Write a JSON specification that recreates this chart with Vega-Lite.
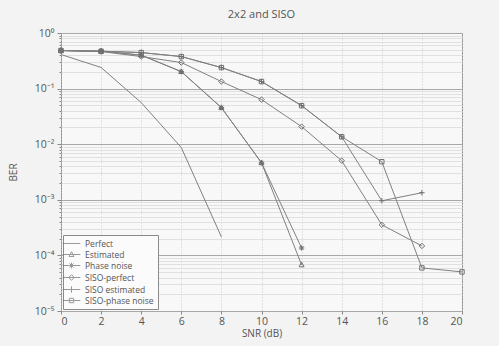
{
  "$schema": "https://vega.github.io/schema/vega-lite/v6.json",
  "autosize": "none",
  "width": 401,
  "height": 278,
  "padding": {"left": 61, "top": 33, "right": 37, "bottom": 35},
  "background": "#f3f3f3",
  "title": {"text": "2x2 and SISO", "fontSize": 11, "font": "Open Sans", "fontWeight": "normal", "color": "#555555", "offset": 8},
  "config": {
    "view": {"fill": "#f8f8f8", "stroke": "#8a8a8a", "strokeWidth": 1},
    "axis": {"labelFont": "Open Sans", "titleFont": "Open Sans", "labelColor": "#555555", "titleColor": "#555555", "titleFontWeight": "normal", "labelFontSize": 10.5, "titleFontSize": 10, "domain": false, "tickColor": "#888888"}
  },
  "data": {"values": [
    {"series": "Perfect", "snr": 0, "ber": 0.41},
    {"series": "Perfect", "snr": 2, "ber": 0.24},
    {"series": "Perfect", "snr": 4, "ber": 0.056},
    {"series": "Perfect", "snr": 6, "ber": 0.0087},
    {"series": "Perfect", "snr": 8, "ber": 0.000215},
    {"series": "Estimated", "snr": 0, "ber": 0.484},
    {"series": "Estimated", "snr": 2, "ber": 0.47},
    {"series": "Estimated", "snr": 4, "ber": 0.40},
    {"series": "Estimated", "snr": 6, "ber": 0.202},
    {"series": "Estimated", "snr": 8, "ber": 0.0455},
    {"series": "Estimated", "snr": 10, "ber": 0.00464},
    {"series": "Estimated", "snr": 12, "ber": 0.0000675},
    {"series": "Phase noise", "snr": 0, "ber": 0.484},
    {"series": "Phase noise", "snr": 2, "ber": 0.47},
    {"series": "Phase noise", "snr": 4, "ber": 0.40},
    {"series": "Phase noise", "snr": 6, "ber": 0.202},
    {"series": "Phase noise", "snr": 8, "ber": 0.0455},
    {"series": "Phase noise", "snr": 10, "ber": 0.00464},
    {"series": "Phase noise", "snr": 12, "ber": 0.000136},
    {"series": "SISO-perfect", "snr": 0, "ber": 0.484},
    {"series": "SISO-perfect", "snr": 2, "ber": 0.464},
    {"series": "SISO-perfect", "snr": 4, "ber": 0.377},
    {"series": "SISO-perfect", "snr": 6, "ber": 0.294},
    {"series": "SISO-perfect", "snr": 8, "ber": 0.134},
    {"series": "SISO-perfect", "snr": 10, "ber": 0.0634},
    {"series": "SISO-perfect", "snr": 12, "ber": 0.0207},
    {"series": "SISO-perfect", "snr": 14, "ber": 0.00505},
    {"series": "SISO-perfect", "snr": 16, "ber": 0.000355},
    {"series": "SISO-perfect", "snr": 18, "ber": 0.000148},
    {"series": "SISO estimated", "snr": 0, "ber": 0.484},
    {"series": "SISO estimated", "snr": 2, "ber": 0.47},
    {"series": "SISO estimated", "snr": 4, "ber": 0.445},
    {"series": "SISO estimated", "snr": 6, "ber": 0.377},
    {"series": "SISO estimated", "snr": 8, "ber": 0.239},
    {"series": "SISO estimated", "snr": 10, "ber": 0.134},
    {"series": "SISO estimated", "snr": 12, "ber": 0.0494},
    {"series": "SISO estimated", "snr": 14, "ber": 0.0136},
    {"series": "SISO estimated", "snr": 16, "ber": 0.00096},
    {"series": "SISO estimated", "snr": 18, "ber": 0.00134},
    {"series": "SISO-phase noise", "snr": 0, "ber": 0.484},
    {"series": "SISO-phase noise", "snr": 2, "ber": 0.47},
    {"series": "SISO-phase noise", "snr": 4, "ber": 0.445},
    {"series": "SISO-phase noise", "snr": 6, "ber": 0.377},
    {"series": "SISO-phase noise", "snr": 8, "ber": 0.239},
    {"series": "SISO-phase noise", "snr": 10, "ber": 0.134},
    {"series": "SISO-phase noise", "snr": 12, "ber": 0.0494},
    {"series": "SISO-phase noise", "snr": 14, "ber": 0.0136},
    {"series": "SISO-phase noise", "snr": 16, "ber": 0.00484},
    {"series": "SISO-phase noise", "snr": 18, "ber": 0.0000596},
    {"series": "SISO-phase noise", "snr": 20, "ber": 0.0000505}
  ]},
  "encoding": {
    "x": {"field": "snr", "type": "quantitative", "scale": {"domain": [0, 20], "nice": false},
      "axis": {"title": "SNR (dB)", "values": [0,2,4,6,8,10,12,14,16,18,20], "grid": true, "gridColor": "#c8c8c8", "gridDash": [1, 2], "tickSize": 3, "labelPadding": 2, "titlePadding": 2}},
    "y": {"field": "ber", "type": "quantitative", "scale": {"type": "log", "domain": [0.00001, 1], "nice": false},
      "axis": {"title": "BER", "titlePadding": 16,
        "values": [0.00001,0.00002,0.00003,0.00004,0.00005,0.00006,0.00007,0.00008,0.00009,0.0001,0.0002,0.0003,0.0004,0.0005,0.0006,0.0007,0.0008,0.0009,0.001,0.002,0.003,0.004,0.005,0.006,0.007,0.008,0.009,0.01,0.02,0.03,0.04,0.05,0.06,0.07,0.08,0.09,0.1,0.2,0.3,0.4,0.5,0.6,0.7,0.8,0.9,1],
        "labelExpr": "datum.value == 1 ? '10⁰' : datum.value == 0.1 ? '10⁻¹' : datum.value == 0.01 ? '10⁻²' : datum.value == 0.001 ? '10⁻³' : datum.value == 0.0001 ? '10⁻⁴' : datum.value == 0.00001 ? '10⁻⁵' : ''",
        "grid": true,
        "gridColor": {"condition": {"test": "indexof([1,0.1,0.01,0.001,0.0001,0.00001], datum.value) >= 0", "value": "#a8a8a8"}, "value": "#e0e0e0"},
        "tickSize": {"condition": {"test": "indexof([1,0.1,0.01,0.001,0.0001,0.00001], datum.value) >= 0", "value": 4}, "value": 2},
        "labelPadding": 3, "labelBound": false}}
  },
  "layer": [
    {"mark": {"type": "line", "color": "#808080", "strokeWidth": 1},
     "encoding": {"detail": {"field": "series"}}},
    {"transform": [{"filter": "datum.series != 'Perfect'"}],
     "mark": {"type": "point", "filled": false, "color": "#6e6e6e", "strokeWidth": 1, "size": 30, "opacity": 1},
     "encoding": {"shape": {"field": "series", "type": "nominal", "legend": null,
       "scale": {"domain": ["Estimated", "Phase noise", "SISO-perfect", "SISO estimated", "SISO-phase noise"],
         "range": ["M0,-1L0.9,0.7L-0.9,0.7Z", "M-1,0H1M0,-1V1M-0.7,-0.7L0.7,0.7M-0.7,0.7L0.7,-0.7", "M0,-1L1,0L0,1L-1,0Z", "M-1,0H1M0,-1V1", "M-0.8,-0.8H0.8V0.8H-0.8Z"]}}}},
    {"transform": [{"filter": "datum.snr < 0"}],
     "mark": {"type": "point", "filled": false, "color": "#6e6e6e", "strokeWidth": 1},
     "encoding": {"shape": {"field": "series", "type": "nominal",
       "scale": {"domain": ["Perfect", "Estimated", "Phase noise", "SISO-perfect", "SISO estimated", "SISO-phase noise"],
         "range": ["M-2.2,0H2.2", "M-2.2,0H2.2M0,-0.7L0.6,0.5L-0.6,0.5Z", "M-2.2,0H2.2M0,-0.7V0.7M-0.5,-0.5L0.5,0.5M-0.5,0.5L0.5,-0.5", "M-2.2,0H2.2M0,-0.7L0.7,0L0,0.7L-0.7,0Z", "M-2.2,0H2.2M0,-0.8V0.8", "M-2.2,0H2.2M-0.55,-0.55H0.55V0.55H-0.55Z"]},
       "legend": {"title": null, "orient": "bottom-left", "offset": 2, "symbolSize": 64, "symbolStrokeColor": "#707070", "symbolFillColor": "transparent", "symbolStrokeWidth": 1, "labelFont": "Open Sans", "labelFontSize": 8.5, "labelColor": "#555555", "labelOffset": 9, "rowPadding": 1, "padding": 4, "strokeColor": "#8a8a8a", "fillColor": "#fbfbfb", "labelLimit": 120}}}}
  ],
  "resolve": {"scale": {"shape": "independent"}, "legend": {"shape": "independent"}}
}
